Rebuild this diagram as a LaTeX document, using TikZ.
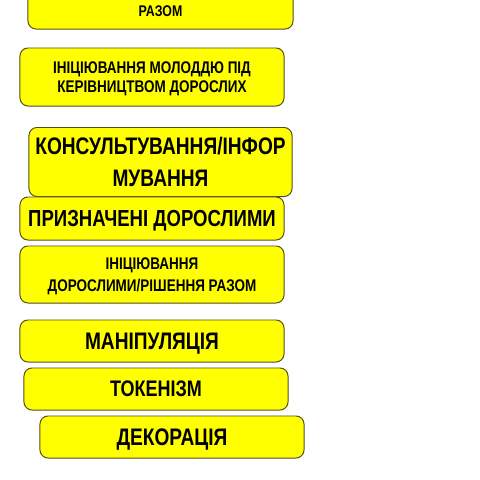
\documentclass[tikz,border=0pt]{standalone}
\usepackage{fontspec}
\newfontfamily\ladderfont{Liberation Sans}[FakeStretch=0.8]
\usetikzlibrary{positioning}
\definecolor{rungyellow}{RGB}{255,255,0}
\definecolor{rungedge}{RGB}{85,75,30}

\begin{document}
\begin{tikzpicture}[x=0.025cm, y=-0.025cm,
    rung/.style={draw=rungedge, line width=0.7pt, fill=rungyellow, rounded corners=0.2cm,
      minimum width=6.6cm, inner sep=0pt, text depth=0pt, align=center, font=\ladderfont\bfseries}]
  \useasboundingbox (0,0) rectangle (480,480);

  \node[rung, minimum width=6.625cm, minimum height=1.5cm, font=\ladderfont\bfseries\fontsize{11}{25}\selectfont] (together) at (160.5,-1) {\\РАЗОМ};
  \node[rung, minimum height=1.45cm, font=\ladderfont\bfseries\fontsize{12}{13.8}\selectfont] (youthled) at (152,77) {ІНІЦІЮВАННЯ МОЛОДДЮ ПІД\\КЕРІВНИЦТВОМ ДОРОСЛИХ};
  \node[rung, minimum width=6.575cm, minimum height=1.725cm, font=\ladderfont\bfseries\fontsize{17}{22.4}\selectfont] (consulted) at (160.5,162) {КОНСУЛЬТУВАННЯ/ІНФОР\\МУВАННЯ};
  \node[rung, minimum height=1.075cm, font=\ladderfont\bfseries\fontsize{16.5}{20}\selectfont] (assigned) at (152,218.5) {ПРИЗНАЧЕНІ ДОРОСЛИМИ};
  \node[rung, minimum height=1.425cm, font=\ladderfont\bfseries\fontsize{12}{15.6}\selectfont] (adultled) at (152,274.5) {ІНІЦІЮВАННЯ\\ДОРОСЛИМИ/РІШЕННЯ РАЗОМ};
  \node[rung, minimum height=1.05cm, font=\ladderfont\bfseries\fontsize{17}{20}\selectfont] (manipulation) at (152,341) {МАНІПУЛЯЦІЯ};
  \node[rung, minimum height=1.05cm, font=\ladderfont\bfseries\fontsize{16}{20}\selectfont] (tokenism) at (156,389) {ТОКЕНІЗМ};
  \node[rung, minimum height=1.05cm, font=\ladderfont\bfseries\fontsize{17}{20}\selectfont] (decoration) at (172,437) {ДЕКОРАЦІЯ};
\end{tikzpicture}
\end{document}
